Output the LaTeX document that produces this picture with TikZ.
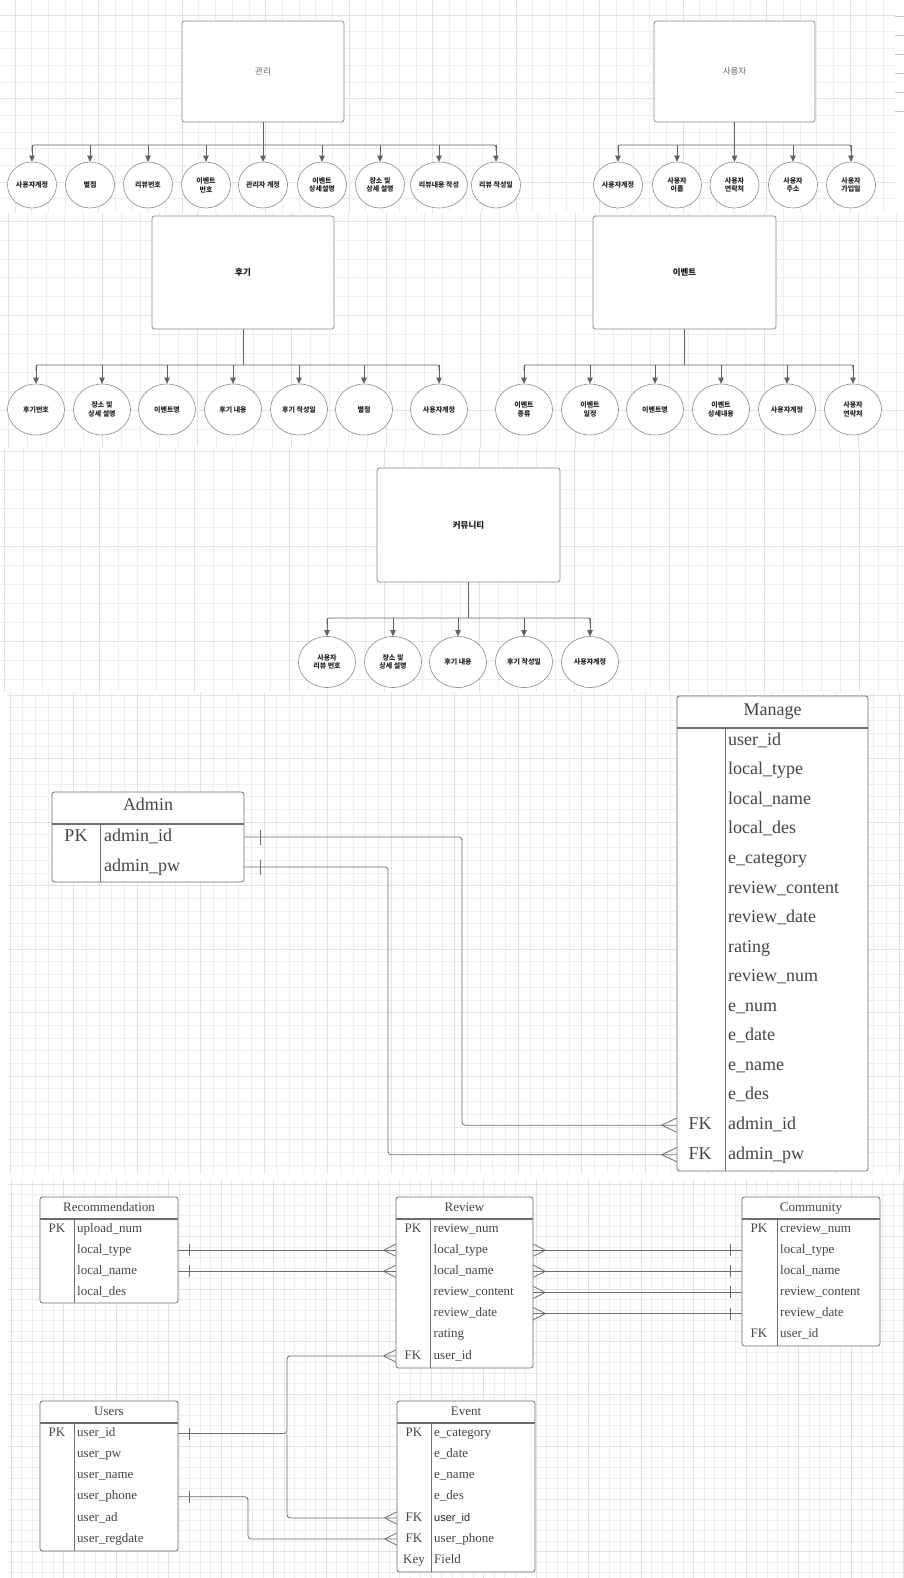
\documentclass[tikz,border=0pt]{standalone}
\usepackage{fontspec}
\setmainfont{Liberation Serif}
\newfontfamily\krfont{Noto Sans CJK KR}
\newfontfamily\arialfont{Liberation Sans}
\usetikzlibrary{arrows.meta,shapes.geometric}

\definecolor{gridlo}{HTML}{EEEEEE}
\definecolor{gridhi}{HTML}{E2E2E2}
\definecolor{boxline}{HTML}{8A8A8A}
\definecolor{arrowline}{HTML}{5C626B}
\definecolor{ertext}{HTML}{454545}
\definecolor{erline}{HTML}{6E6E6E}

% background grid panel: x1,y1,x2,y2,step,offset
\newcommand\gridpanel[6]{%
  \begin{scope}
    \clip (#1,#2) rectangle (#3,#4);
    \foreach \gi in {0,...,90}{
      \draw[gminor] ({#1+#6+\gi*#5},#2) -- ({#1+#6+\gi*#5},#4);
      \draw[gminor] (#1,{#2+#6+\gi*#5}) -- (#3,{#2+#6+\gi*#5});
    }
    \foreach \gi in {0,...,18}{
      \draw[gmajor] ({#1+#6+5*\gi*#5},#2) -- ({#1+#6+5*\gi*#5},#4);
      \draw[gmajor] (#1,{#2+#6+5*\gi*#5}) -- (#3,{#2+#6+5*\gi*#5});
    }
  \end{scope}}

% tree connector: parent node, first child, last child, bus y, child count, child prefix
\newcommand\treebus[6]{%
  \draw[busline] (#1.south) -- (#1.south |- 0,#4);
  \draw[busline] (#2.north |- 0,{#4+6}) |- (#1.south |- 0,#4) -| (#3.north |- 0,{#4+6});
  \foreach \n in {1,...,#5}
    \draw[feed] (#6\n.north |- 0,#4) -- (#6\n.north);}

% crow's foot entering a box edge from the left: point, length, half spread
\newcommand\crowin[3]{\draw[erl] #1 ++(-#2,0) -- ++(#2,-#3) ++(0,{2*#3}) -- ++(-#2,-#3);}
% crow's foot leaving a box edge to the right
\newcommand\crowout[3]{\draw[erl] #1 ++(0,-#3) -- ++(#2,#3) -- ++(-#2,#3);}
% single bar: point, horizontal offset, half height
\newcommand\erbar[3]{\draw[erl] #1 ++(#2,-#3) -- ++(0,{2*#3});}

\begin{document}
\begin{tikzpicture}[x=1pt,y=-1pt,
  gminor/.style={draw=gridlo,line width=0.5pt},
  gmajor/.style={draw=gridhi,line width=0.6pt},
  entbox/.style={draw=boxline,fill=white,rounded corners=2.5pt,line width=0.8pt,inner sep=0pt},
  entgray/.style={font=\krfont\fontsize{8.5}{10}\selectfont,text=black!60},
  entbold/.style={font=\krfont\bfseries\fontsize{8.5}{10}\selectfont,text=black!90},
  attr/.style={ellipse,draw=boxline,fill=white,line width=0.6pt,inner sep=0pt,align=center,
    text=black!85,font=\krfont\bfseries\fontsize{7}{8.7}\selectfont},
  attrs/.style={attr,minimum width=49pt,minimum height=46pt},
  attrl/.style={attr,minimum width=57pt,minimum height=51pt},
  busline/.style={draw=arrowline,line width=0.7pt,rounded corners=2pt},
  feed/.style={draw=arrowline,line width=0.7pt,-{Triangle[length=6pt,width=5.5pt]}},
  tbl/.style={draw=erline,fill=white,rounded corners=2.5pt,line width=0.8pt,inner sep=0pt},
  hrule/.style={draw=erline,line width=1.2pt},
  crule/.style={draw=erline,line width=0.8pt},
  erl/.style={draw=erline,line width=0.8pt},
  erlink/.style={erl,rounded corners=3pt},
  ttlL/.style={font=\fontsize{18}{20}\selectfont,text=ertext,inner sep=0pt,text height=12.6pt,text depth=4pt},
  rowL/.style={ttlL,anchor=west},
  ttlS/.style={font=\fontsize{13}{15}\selectfont,text=ertext,inner sep=0pt,text height=9.1pt,text depth=2.9pt},
  rowS/.style={ttlS,anchor=west},
]
\useasboundingbox (0,0) rectangle (904,1578);
\fill[white] (0,0) rectangle (904,1578);

% ---------- grid backgrounds ----------
\gridpanel{0}{0}{895}{213}{16.7}{15}
\gridpanel{0}{213}{904}{447}{18.9}{8}
\gridpanel{0}{447}{904}{692}{19}{4}
\gridpanel{7}{692}{904}{1174}{12.7}{3}
\gridpanel{7}{1180}{904}{1578}{10.5}{4}
\foreach \dy in {16,35,54,73,92,111}
  \draw[draw=black!22,line width=0.8pt] (895,\dy) -- (904,\dy);

% ---------- 관리 ----------
\node[entbox,entgray,minimum width=162pt,minimum height=101pt] (k) at (263,71.5) {관리};
\node[attrs] (k1) at (32,185) {사용자계정};
\node[attrs] (k2) at (90,185) {별점};
\node[attrs] (k3) at (148,185) {리뷰번호};
\node[attrs] (k4) at (206,185) {이벤트\\번호};
\node[attrs] (k5) at (263,185) {관리자 계정};
\node[attrs] (k6) at (322,185) {이벤트\\상세설명};
\node[attrs] (k7) at (380,185) {장소 및\\상세 설명};
\node[attrs] (k8) at (439,185) {리뷰내용 작성};
\node[attrs] (k9) at (496,185) {리뷰 작성일};
\treebus{k}{k1}{k9}{145}{9}{k}

% ---------- 사용자 ----------
\node[entbox,entgray,minimum width=161pt,minimum height=101pt] (u) at (734.5,71.5) {사용자};
\node[attrs] (u1) at (618,185) {사용자계정};
\node[attrs] (u2) at (677,185) {사용자\\이름};
\node[attrs] (u3) at (734.5,185) {사용자\\연락처};
\node[attrs] (u4) at (793,185) {사용자\\주소};
\node[attrs] (u5) at (851,185) {사용자\\가입일};
\treebus{u}{u1}{u5}{145}{5}{u}

% ---------- 후기 ----------
\node[entbox,entbold,minimum width=182pt,minimum height=113pt] (h) at (243,272.5) {후기};
\node[attrl] (h1) at (36,409.5) {후기번호};
\node[attrl] (h2) at (102,409.5) {장소 및\\상세 설명};
\node[attrl] (h3) at (167,409.5) {이벤트명};
\node[attrl] (h4) at (233,409.5) {후기 내용};
\node[attrl] (h5) at (299,409.5) {후기 작성일};
\node[attrl] (h6) at (364,409.5) {별점};
\node[attrl] (h7) at (439,409.5) {사용자계정};
\treebus{h}{h1}{h7}{365}{7}{h}

% ---------- 이벤트 ----------
\node[entbox,entbold,minimum width=183pt,minimum height=113pt] (e) at (684.5,272.5) {이벤트};
\node[attrl] (e1) at (524,409.5) {이벤트\\종류};
\node[attrl] (e2) at (590,409.5) {이벤트\\일정};
\node[attrl] (e3) at (655,409.5) {이벤트명};
\node[attrl] (e4) at (721,409.5) {이벤트\\상세내용};
\node[attrl] (e5) at (787,409.5) {사용자계정};
\node[attrl] (e6) at (853,409.5) {사용자\\연락처};
\treebus{e}{e1}{e6}{365}{6}{e}

% ---------- 커뮤니티 ----------
\node[entbox,entbold,minimum width=183pt,minimum height=114pt] (c) at (468.5,525) {커뮤니티};
\node[attrl] (c1) at (327,662) {사용자\\리뷰 번호};
\node[attrl] (c2) at (393,662) {장소 및\\상세 설명};
\node[attrl] (c3) at (458,662) {후기 내용};
\node[attrl] (c4) at (524,662) {후기 작성일};
\node[attrl] (c5) at (590,662) {사용자계정};
\treebus{c}{c1}{c5}{618}{5}{c}

% ---------- Admin / Manage ----------
\node[tbl,minimum width=192pt,minimum height=90pt] (adm) at (148,837) {};
\draw[hrule] (adm.west |- 0,824) -- (adm.east |- 0,824);
\draw[crule] (100,824) -- (100,0 |- adm.south);
\node[ttlL] (adm-t) at (148,806) {Admin};
\node[ttlL] (adm-k) at (76,837) {PK};
\node[rowL] (adm-0) at (104,837) {admin\_id};
\node[rowL] (adm-1) at (104,867) {admin\_pw};

\node[tbl,minimum width=191pt,minimum height=475pt] (man) at (772.5,933.5) {};
\draw[hrule] (man.west |- 0,728) -- (man.east |- 0,728);
\draw[crule] (725,728) -- (725,0 |- man.south);
\node[ttlL] (man-t) at (772.5,711) {Manage};
\foreach \t [count=\i from 0] in {user\_id,local\_type,local\_name,local\_des,e\_category,
    review\_content,review\_date,rating,review\_num,e\_num,e\_date,e\_name,e\_des,admin\_id,admin\_pw}
  \node[rowL] (man-\i) at (728,{741+29.55*\i}) {\t};
\node[ttlL] (man-k13) at (700,{741+29.55*13}) {FK};
\node[ttlL] (man-k14) at (700,{741+29.55*14}) {FK};

\coordinate (ja) at (462,0);
\coordinate (jb) at (388,0);
\draw[erlink] (adm.east |- adm-0) -| (ja |- man-13) -- (man.west |- man-13);
\draw[erlink] (adm.east |- adm-1) -| (jb |- man-14) -- (man.west |- man-14);
\erbar{(adm.east |- adm-0)}{16}{7.5}
\erbar{(adm.east |- adm-1)}{16}{7.5}
\crowin{(man.west |- man-13)}{15}{7}
\crowin{(man.west |- man-14)}{15}{7}

% ---------- Recommendation ----------
\node[tbl,minimum width=138pt,minimum height=106pt] (rec) at (109,1250) {};
\draw[hrule] (rec.west |- 0,1219) -- (rec.east |- 0,1219);
\draw[crule] (74,1219) -- (74,0 |- rec.south);
\node[ttlS] (rec-t) at (109,1208) {Recommendation};
\node[ttlS] (rec-k) at (57,1229) {PK};
\foreach \t [count=\i from 0] in {upload\_num,local\_type,local\_name,local\_des}
  \node[rowS] (rec-\i) at (77,{1229+21.15*\i}) {\t};

% ---------- Review ----------
\node[tbl,minimum width=137pt,minimum height=171pt] (rev) at (464.5,1282.5) {};
\draw[hrule] (rev.west |- 0,1219) -- (rev.east |- 0,1219);
\draw[crule] (430,1219) -- (430,0 |- rev.south);
\node[ttlS] (rev-t) at (464.5,1208) {Review};
\node[ttlS] (rev-k0) at (413,1229) {PK};
\node[ttlS] (rev-k6) at (413,{1229+21.15*6}) {FK};
\foreach \t [count=\i from 0] in {review\_num,local\_type,local\_name,review\_content,review\_date,rating,user\_id}
  \node[rowS] (rev-\i) at (433.5,{1229+21.15*\i}) {\t};

% ---------- Community ----------
\node[tbl,minimum width=138pt,minimum height=149pt] (com) at (811,1271.5) {};
\draw[hrule] (com.west |- 0,1219) -- (com.east |- 0,1219);
\draw[crule] (777,1219) -- (777,0 |- com.south);
\node[ttlS] (com-t) at (811,1208) {Community};
\node[ttlS] (com-k0) at (759,1229) {PK};
\node[ttlS] (com-k5) at (759,{1229+21.15*5}) {FK};
\foreach \t [count=\i from 0] in {creview\_num,local\_type,local\_name,review\_content,review\_date,user\_id}
  \node[rowS] (com-\i) at (780,{1229+21.15*\i}) {\t};

% ---------- Users ----------
\node[tbl,minimum width=138pt,minimum height=150pt] (usr) at (109,1476) {};
\draw[hrule] (usr.west |- 0,1423) -- (usr.east |- 0,1423);
\draw[crule] (74,1423) -- (74,0 |- usr.south);
\node[ttlS] (usr-t) at (109,1412) {Users};
\node[ttlS] (usr-k) at (57,1433.5) {PK};
\foreach \t [count=\i from 0] in {user\_id,user\_pw,user\_name,user\_phone,user\_ad,user\_regdate}
  \node[rowS] (usr-\i) at (77,{1433.5+21.1*\i}) {\t};

% ---------- Event ----------
\node[tbl,minimum width=138pt,minimum height=171pt] (evt) at (466,1486.5) {};
\draw[hrule] (evt.west |- 0,1423) -- (evt.east |- 0,1423);
\draw[crule] (431,1423) -- (431,0 |- evt.south);
\node[ttlS] (evt-t) at (466,1412) {Event};
\node[ttlS] (evt-k0) at (414,1433.5) {PK};
\node[ttlS] (evt-k4) at (414,{1433.5+21.1*4}) {FK};
\node[ttlS] (evt-k5) at (414,{1433.5+21.1*5}) {FK};
\node[ttlS] (evt-k6) at (414,{1433.5+21.1*6}) {Key};
\node[rowS] (evt-0) at (434,1433.5) {e\_category};
\node[rowS] (evt-1) at (434,{1433.5+21.1}) {e\_date};
\node[rowS] (evt-2) at (434,{1433.5+21.1*2}) {e\_name};
\node[rowS] (evt-3) at (434,{1433.5+21.1*3}) {e\_des};
\node[rowS,font=\arialfont\fontsize{11}{13}\selectfont,text=black!85] (evt-4) at (434,{1433.5+21.1*4}) {user\_id};
\node[rowS] (evt-5) at (434,{1433.5+21.1*5}) {user\_phone};
\node[rowS] (evt-6) at (434,{1433.5+21.1*6}) {Field};

% ---------- relations, lower part ----------
\foreach \r in {1,2}{
  \draw[erl] (rec.east |- rec-\r) -- (rev.west |- rev-\r);
  \erbar{(rec.east |- rec-\r)}{11}{6}
  \crowin{(rev.west |- rev-\r)}{12}{6}
}
\foreach \r in {1,2,3,4}{
  \draw[erl] (rev.east |- rev-\r) -- (com.west |- com-\r);
  \crowout{(rev.east |- rev-\r)}{12}{6}
  \erbar{(com.west |- com-\r)}{-11}{6}
}
\coordinate (jc) at (287,0);
\coordinate (jd) at (248,0);
\draw[erlink] (usr.east |- usr-0) -- (jc |- usr-0) |- (rev.west |- rev-6);
\draw[erlink] (jc |- usr-0) |- (evt.west |- evt-4);
\draw[erlink] (usr.east |- usr-3) -| (jd |- evt-5) -- (evt.west |- evt-5);
\erbar{(usr.east |- usr-0)}{11}{6}
\erbar{(usr.east |- usr-3)}{11}{6}
\crowin{(rev.west |- rev-6)}{12}{6}
\crowin{(evt.west |- evt-4)}{12}{6}
\crowin{(evt.west |- evt-5)}{12}{6}
\end{tikzpicture}
\end{document}
